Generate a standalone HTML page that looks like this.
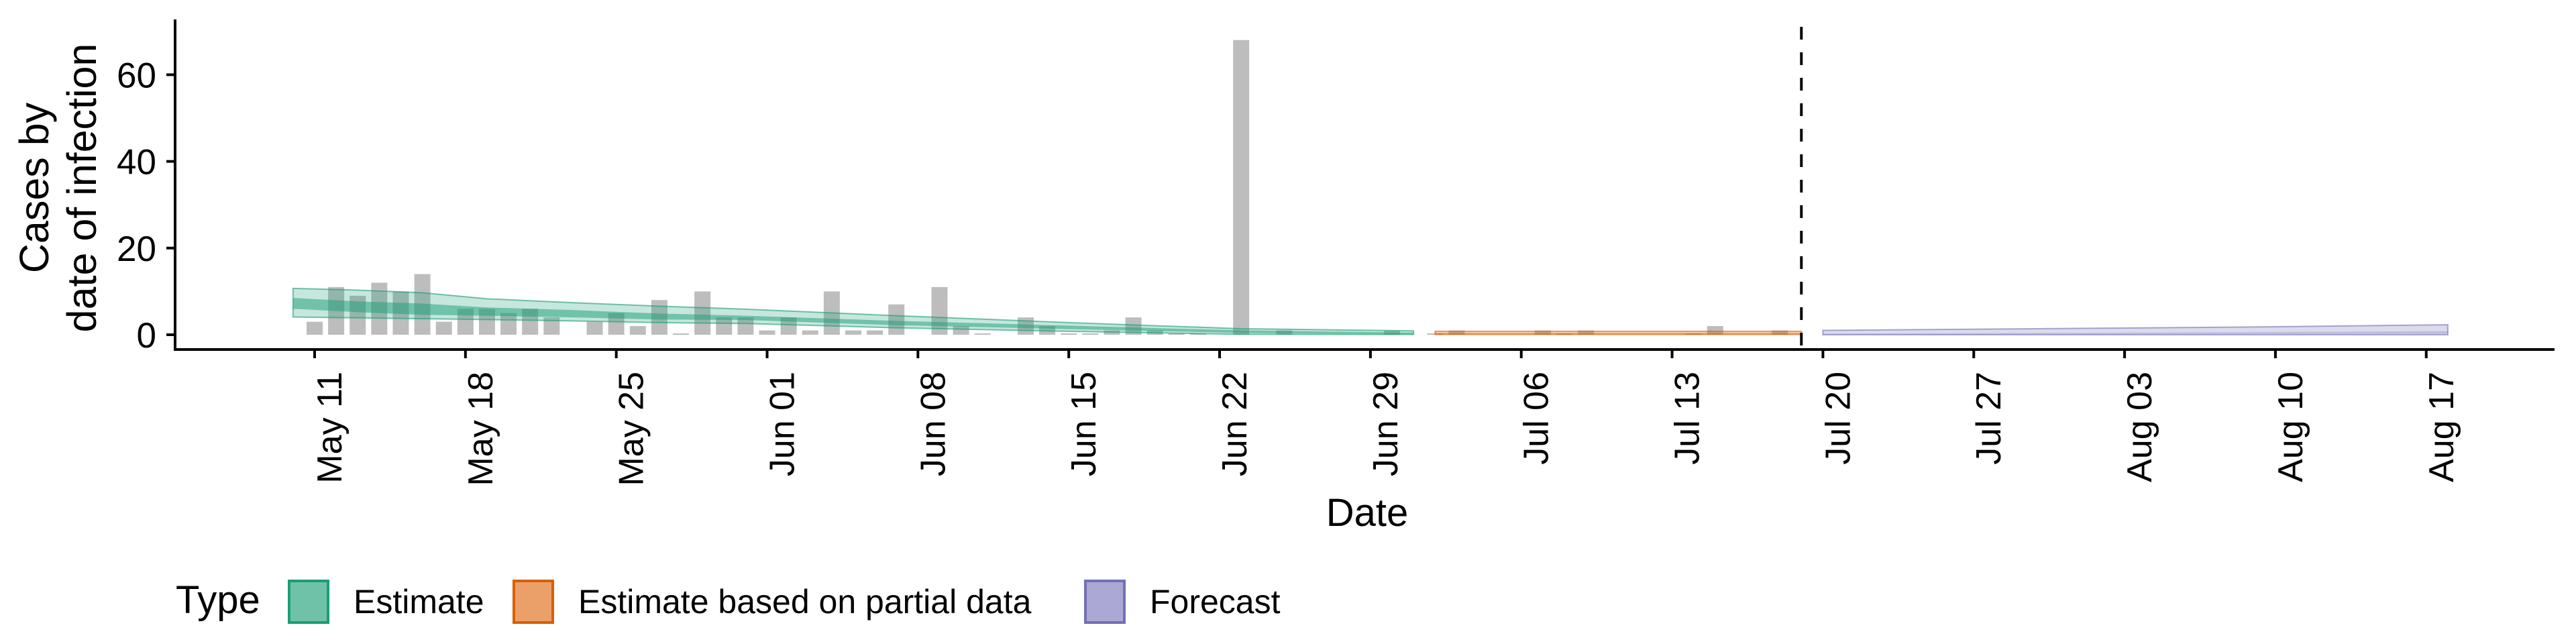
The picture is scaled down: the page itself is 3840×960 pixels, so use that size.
<!DOCTYPE html>
<html><head><meta charset="utf-8"><style>
html,body{margin:0;padding:0;background:#fff;}
svg{display:block;font-family:"Liberation Sans",sans-serif;}
</style></head><body>
<svg id="chart" width="3840" height="960" viewBox="0 0 3840 960" xmlns="http://www.w3.org/2000/svg">
<g id="plot"></g>
</svg>
<script>
// ---- data ----
const startDate = "May 11";
const barDays = [0,1,2,3,4,5,6,7,8,9,10,11,13,14,15,16,17,18,19,20,21,22,23,24,25,26,27,29,30,31,33,34,35,36,37,38,39,40,41,43,45,50,52,53,57,58,59,64,65,68];
const barCases = [3,11,9,12,10,14,3,6,6,5,6,4,3,5,2,8,0,10,4,4,1,4,1,10,1,1,7,11,2,0,4,2,0,0,1,4,1,0,0,68,1,1,0,1,1,0,1,0,2,1];
const estDays = [-1,2,5,8,12,16,20,27,35,43,51];
const estLo90 = [4.1,3.9,3.7,3.5,3.2,2.8,2.6,1.6,0.8,0.1,0.05];
const estHi90 = [10.7,10.3,9.7,8.3,7.4,6.6,5.9,4.4,2.8,1.4,0.9];
const estLo50 = [6.0,5.2,4.6,4.4,4.0,3.5,3.4,2.2,1.3,0.4,0.1];
const estHi50 = [8.5,7.7,7.2,6.3,5.7,4.9,4.4,3.2,2.1,1.0,0.5];
const partDays = [52,60,69];
const partLo90 = [0.05,0.05,0.05];
const partHi90 = [0.8,0.8,0.8];
const partLo50 = [0.15,0.15,0.15];
const partHi50 = [0.4,0.4,0.4];
const fcDays = [70,80,90,99];
const fcLo90 = [0.0,0.0,0.0,0.0];
const fcHi90 = [1.0,1.4,1.8,2.3];
const fcLo50 = [0.1,0.15,0.2,0.25];
const fcHi50 = [0.25,0.4,0.6,0.8];
const xTickDays = [0,7,14,21,28,35,42,49,56,63,70,77,84,91,98];
const xTickLabels = ["May 11","May 18","May 25","Jun 01","Jun 08","Jun 15","Jun 22","Jun 29","Jul 06","Jul 13","Jul 20","Jul 27","Aug 03","Aug 10","Aug 17"];
const yTicks = [0,20,40,60];
const forecastDay = 69;

// ---- scales ----
const X0 = 469, DX = 32.12;
const Y0 = 499, DY = 6.46;
const x = d => X0 + d * DX;
const y = v => Y0 - v * DY;
const NS = "http://www.w3.org/2000/svg";
const plot = document.getElementById('plot');
function mk(tag, attrs, parent){ const e=document.createElementNS(NS,tag); for(const k in attrs) e.setAttribute(k,attrs[k]); (parent||plot).appendChild(e); return e; }

// bars
barDays.forEach((d,i)=>{
  const v = barCases[i];
  const h = Math.max(v*DY, 2);
  const r = mk('rect',{x:x(d)-12,y:Y0-h,width:24,height:h,fill:'#bdbdbd'});
  
  
});

function ribbon(days, lo, hi, fill, op, stroke, name){
  let p = days.map((d,i)=>`${x(d)},${y(hi[i])}`).join(' ');
  p += ' ' + days.slice().reverse().map((d,j)=>{const i=days.length-1-j; return `${x(d)},${y(lo[i])}`;}).join(' ');
  const e = mk('polygon',{points:p,fill:fill,'fill-opacity':op,stroke:stroke,'stroke-opacity':0.6,'stroke-width':2});
  
  
}
ribbon(estDays, estLo90, estHi90, '#1b9e77', 0.25, '#1b9e77', 'estimate-ribbon-90');
ribbon(estDays, estLo50, estHi50, '#1b9e77', 0.5, 'none', 'estimate-ribbon-50');
ribbon(partDays, partLo90, partHi90, '#d95f02', 0.25, '#d95f02', 'partial-ribbon-90');
ribbon(partDays, partLo50, partHi50, '#d95f02', 0.5, 'none', 'partial-ribbon-50');
ribbon(fcDays, fcLo90, fcHi90, '#7570b3', 0.25, '#7570b3', 'forecast-ribbon-90');
ribbon(fcDays, fcLo50, fcHi50, '#7570b3', 0.3, 'none', 'forecast-ribbon-50');

// forecast divider
const dl = mk('line',{x1:x(forecastDay),x2:x(forecastDay),y1:40,y2:521,stroke:'#000','stroke-width':4,'stroke-dasharray':'19,19'});



// axes
const ya = mk('line',{x1:261,x2:261,y1:29,y2:523,stroke:'#000','stroke-width':4});


const xa = mk('line',{x1:259,x2:3808,y1:521,y2:521,stroke:'#000','stroke-width':4});



yTicks.forEach(v=>{
  const t = mk('line',{x1:248,x2:261,y1:y(v),y2:y(v),stroke:'#000','stroke-width':4});
  
  
  const l = mk('text',{x:233,y:y(v)+19,'text-anchor':'end','font-size':53,fill:'#000'});
  l.textContent = v;
  
  
});
xTickDays.forEach((d,i)=>{
  const t = mk('line',{x1:x(d),x2:x(d),y1:521,y2:534,stroke:'#000','stroke-width':4});
  
  
  const l = mk('text',{x:0,y:0,'text-anchor':'end','font-size':52,fill:'#000',transform:`translate(${x(d)+40},554) rotate(-90)`});
  l.textContent = xTickLabels[i];
  
  
});
</script>
<svg style="position:absolute;left:0;top:0" width="3840" height="960" xmlns="http://www.w3.org/2000/svg" font-family="Liberation Sans, sans-serif">
<g transform="translate(0,280) rotate(-90)" font-size="61" text-anchor="middle">
<text x="0" y="72">Cases by</text>
<text x="0" y="143">date of infection</text>
</g>
<text x="2038" y="784" font-size="58" text-anchor="middle">Date</text>
<g font-size="50">
<text x="262" y="914" font-size="58">Type</text>
<rect x="431" y="866" width="58" height="62" fill="#6fc2a8" stroke="#1b9e77" stroke-width="4"/>
<text x="527" y="914">Estimate</text>
<rect x="766" y="866" width="58" height="62" fill="#eba06a" stroke="#d95f02" stroke-width="4"/>
<text x="862" y="914">Estimate based on partial data</text>
<rect x="1618" y="866" width="58" height="62" fill="#aba8d5" stroke="#7570b3" stroke-width="4"/>
<text x="1714" y="914">Forecast</text>
</g>
</svg>
</body></html>
